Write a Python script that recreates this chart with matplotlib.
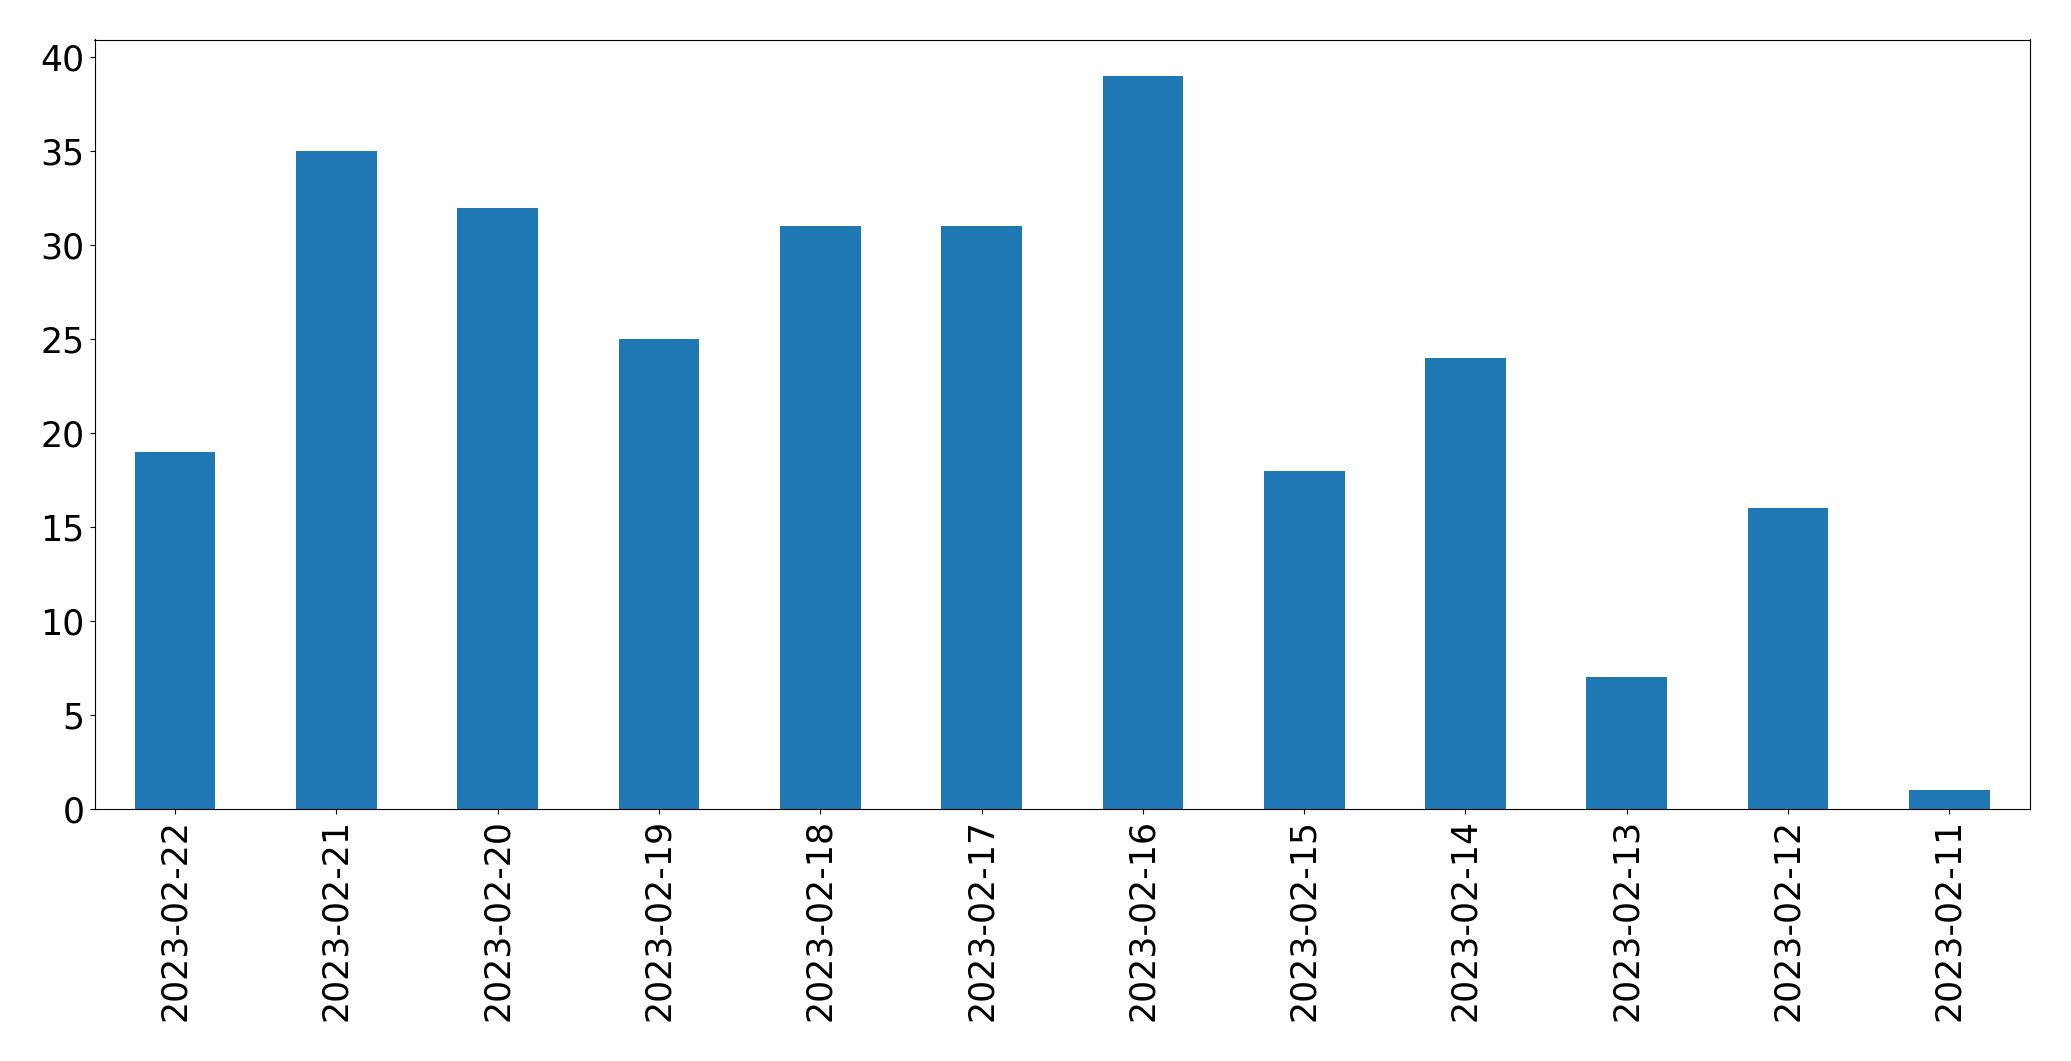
import matplotlib
matplotlib.use("Agg")
import matplotlib.pyplot as plt

dates = ["2023-02-22", "2023-02-21", "2023-02-20", "2023-02-19", "2023-02-18", "2023-02-17",
         "2023-02-16", "2023-02-15", "2023-02-14", "2023-02-13", "2023-02-12", "2023-02-11"]
counts = [19, 35, 32, 25, 31, 31, 39, 18, 24, 7, 16, 1]

fig = plt.figure(figsize=(20.71, 10.61), dpi=100)
ax = fig.add_axes([94.5 / 2071, 1 - 809 / 1061, (2030 - 94.5) / 2071, (809 - 39.5) / 1061])
x = list(range(len(dates)))
ax.bar(x, counts, width=0.5, color="#1f77b4")
ax.set_xlim(-0.5, len(dates) - 0.5)
ax.set_xticks(x)
ax.set_xticklabels(dates, rotation=90)
ax.tick_params(labelsize=25)
fig.savefig("out.png", dpi=100)
